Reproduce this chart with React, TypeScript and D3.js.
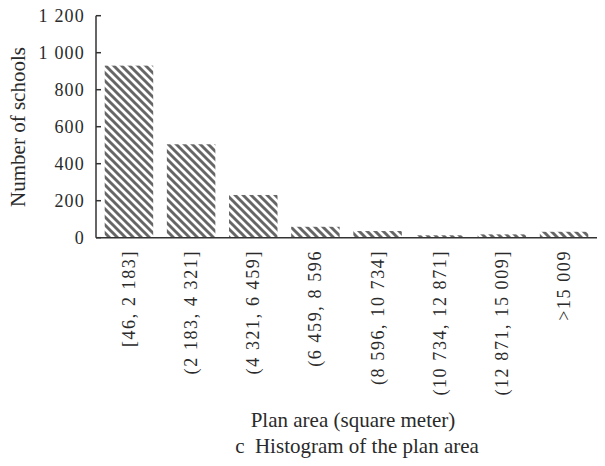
import React from "react";
import * as d3 from "d3";

const categories = [
  "[46, 2 183]",
  "(2 183, 4 321]",
  "(4 321, 6 459]",
  "(6 459, 8 596",
  "(8 596, 10 734]",
  "(10 734, 12 871]",
  "(12 871, 15 009]",
  ">15 009",
];
const counts = [930, 505, 231, 59, 36, 13, 18, 32];
const yTicks = [0, 200, 400, 600, 800, 1000, 1200];

const fmt = (v: number) => (v >= 1000 ? `${Math.floor(v / 1000)} ${String(v % 1000).padStart(3, "0")}` : `${v}`);

const App = () => {
  const width = 605;
  const height = 466;
  const left = 96;
  const right = 597;
  const top = 15.7;
  const bottom = 237.7;

  const x = d3.scaleBand().domain(categories).range([left, right]).paddingInner(0.22).paddingOuter(0.14);
  const y = d3.scaleLinear().domain([0, 1200]).range([bottom, top]);

  const font = "Liberation Serif";
  const axisColor = "#333";

  return (
    <svg width={width} height={height} style={{ position: "absolute", left: 0, top: 0, background: "#fff" }}>
      <defs>
        <pattern id="hatch" patternUnits="userSpaceOnUse" width={8} height={8}>
          <rect width={8} height={8} fill="#fff" />
          <path d="M-2,-2 L10,10 M-2,6 L2,10 M6,-2 L10,2" stroke="#666" strokeWidth={2.9} />
        </pattern>
      </defs>

      {/* bars */}
      {categories.map((c, i) => (
        <rect
          key={c}
          x={x(c)}
          y={y(counts[i])}
          width={x.bandwidth()}
          height={y(0) - y(counts[i])}
          fill="url(#hatch)"
        />
      ))}

      {/* y axis */}
      <line x1={left} y1={top} x2={left} y2={bottom} stroke={axisColor} strokeWidth={1.5} />
      {yTicks.map((t) => (
        <g key={t}>
          <line x1={left} x2={left + 5} y1={y(t)} y2={y(t)} stroke={axisColor} strokeWidth={1.5} />
          <text x={85} y={y(t) + 6} textAnchor="end" fontFamily={font} fontSize={18} letterSpacing={1.2} fill="#2a2a2a">
            {fmt(t)}
          </text>
        </g>
      ))}
      <text
        transform={`translate(25,127) rotate(-90)`}
        textAnchor="middle"
        fontFamily={font}
        fontSize={21}
        fill="#2a2a2a"
      >
        Number of schools
      </text>

      {/* x axis */}
      <line x1={left} y1={bottom} x2={right} y2={bottom} stroke={axisColor} strokeWidth={1.5} />
      {categories.map((c) => (
        <text
          key={c}
          transform={`translate(${(x(c) ?? 0) + x.bandwidth() / 2 + 6},250) rotate(-90)`}
          textAnchor="end"
          fontFamily={font}
          fontSize={18}
          letterSpacing={1.6}
          fill="#2a2a2a"
        >
          {c}
        </text>
      ))}

      <text x={353} y={427} textAnchor="middle" fontFamily={font} fontSize={21} fill="#2a2a2a">
        Plan area (square meter)
      </text>
      <text x={357} y={453} textAnchor="middle" fontFamily={font} fontSize={21} fill="#2a2a2a">
        c{"\u2002"}Histogram of the plan area
      </text>
    </svg>
  );
};

export default App;
